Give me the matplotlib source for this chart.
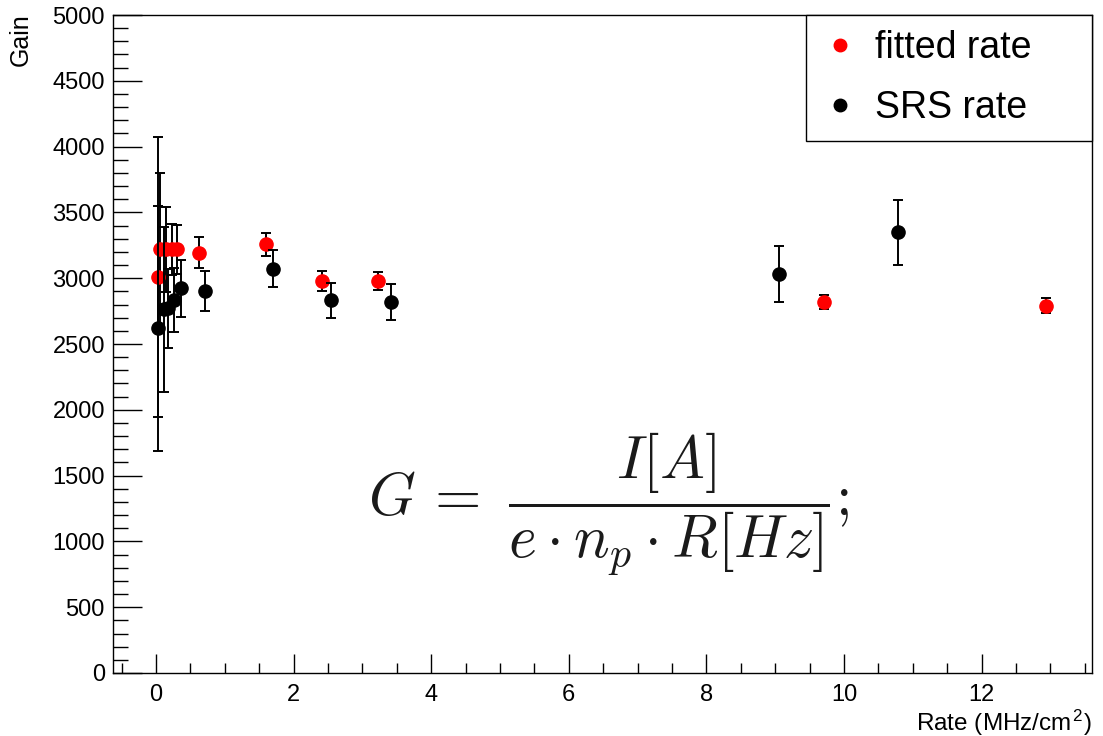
import numpy as np
import matplotlib.pyplot as plt
from matplotlib.ticker import MultipleLocator
from matplotlib.lines import Line2D

plt.rcParams['font.family'] = ['Liberation Sans', 'DejaVu Sans']
plt.rcParams['mathtext.fontset'] = 'cm'

# gain vs rate, fitted rate
rate_fit = [0.03, 0.06, 0.15, 0.23, 0.31, 0.63, 1.60, 2.41, 3.23, 9.71, 12.93]
gain_fit = [3007, 3219, 3219, 3219, 3219, 3194, 3257, 2979, 2979, 2817, 2791]
err_fit = [1064, 583, 322, 195, 185, 120, 85, 75, 68, 54, 58]

# gain vs rate, SRS rate
rate_srs = [0.03, 0.11, 0.18, 0.26, 0.36, 0.71, 1.70, 2.55, 3.41, 9.06, 10.78]
gain_srs = [2619, 2765, 2770, 2834, 2923, 2903, 3072, 2832, 2819, 3032, 3349]
err_srs = [932, 627, 298, 240, 215, 152, 140, 134, 135, 214, 247]

fig = plt.figure(figsize=(11.03, 7.36), dpi=100)
ax = fig.add_axes([0.1027, 0.0856, 0.8871, 0.894])

ax.errorbar(rate_fit, gain_fit, yerr=err_fit, fmt='o', color='#ff0000', ecolor='black',
            markersize=9.5, elinewidth=1.4, capsize=3.3, capthick=1.4, zorder=3)
ax.errorbar(rate_srs, gain_srs, yerr=err_srs, fmt='o', color='black', ecolor='black',
            markersize=9.5, elinewidth=1.4, capsize=3.3, capthick=1.4, zorder=4)

ax.set_xlim(-0.62, 13.6)
ax.set_ylim(0, 5000)

ax.xaxis.set_major_locator(MultipleLocator(2))
ax.xaxis.set_minor_locator(MultipleLocator(0.5))
ax.yaxis.set_major_locator(MultipleLocator(500))
ax.yaxis.set_minor_locator(MultipleLocator(100))

ax.tick_params(axis='both', which='both', direction='in', top=False, right=False, width=1.0)
ax.tick_params(axis='x', which='major', length=14, pad=8, labelsize=17)
ax.tick_params(axis='x', which='minor', length=7)
ax.tick_params(axis='y', which='major', length=21, pad=6, labelsize=17)
ax.tick_params(axis='y', which='minor', length=10.5)
for s in ax.spines.values():
    s.set_linewidth(1.0)

ax.set_xlabel('Rate (MHz/cm$^\\mathregular{2}$)', fontsize=17.5)
ax.xaxis.set_label_coords(1.0, -0.052)
ax.xaxis.label.set_ha('right')
ax.set_ylabel('Gain', fontsize=18)
ax.yaxis.set_label_coords(-0.082, 1.003)
ax.yaxis.label.set_ha('right')
ax.yaxis.label.set_va('bottom')

ax.text(6.57, 1280, r'$G\,=\,\,\dfrac{I[A]}{e \cdot n_p \cdot R[Hz]};$', fontsize=43,
        color='#1a1a1a', ha='center', va='center')

handles = [Line2D([], [], ls='none', marker='o', color='#ff0000', markersize=9),
           Line2D([], [], ls='none', marker='o', color='black', markersize=9)]
leg = ax.legend(handles, ['fitted rate', 'SRS rate'], loc='upper right',
                bbox_to_anchor=(0.708, 0.0, 0.292, 1.0), mode='expand',
                borderaxespad=0, fontsize=27, fancybox=False, edgecolor='black',
                framealpha=1, borderpad=0.4, labelspacing=0.64, handlelength=1.0,
                handletextpad=0.45)
leg.get_frame().set_linewidth(1.0)

fig.savefig('out.png', dpi=100)
